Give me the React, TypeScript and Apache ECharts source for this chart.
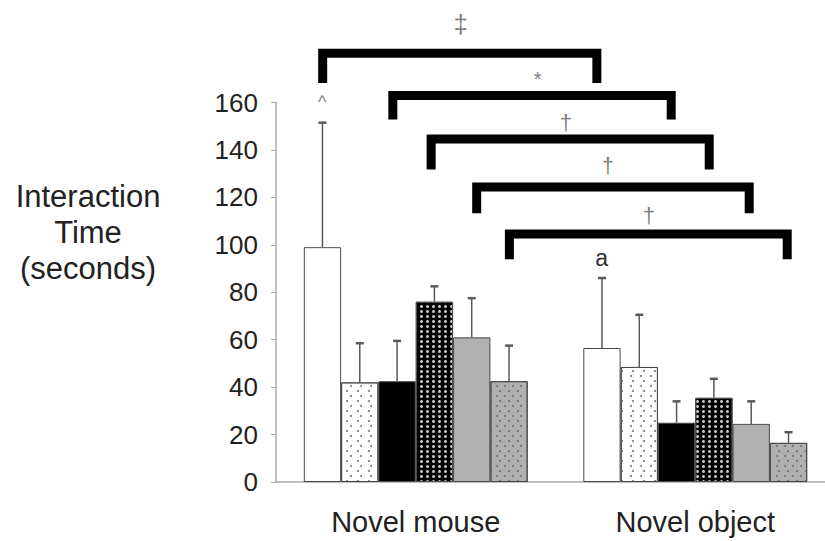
import React, { useEffect, useRef } from "react";
import * as echarts from "echarts";

const categories = ["Novel mouse", "Novel object"];
const meansNovelMouse = [99, 42, 42.5, 76, 61, 42.5];
const meansNovelObject = [56.5, 48.5, 25, 35.5, 24.5, 16.5];
const errTopNovelMouse = [151.5, 58.5, 59.5, 82.5, 77.5, 57.5];
const errTopNovelObject = [86, 70.5, 34, 43.5, 34, 21];
const yTicks = { min: 0, max: 160, interval: 20 };

// brackets: x in category units (0 = Novel mouse, 1 = Novel object), y in data units
const bracketLeft = [-0.333, -0.082, 0.055, 0.218, 0.335];
const bracketRight = [0.648, 0.914, 1.05, 1.193, 1.329];
const bracketTop = [180.8, 162.9, 144.6, 124.4, 104.6];
const bracketBottom = [168.2, 152.8, 131.8, 113.3, 93.9];

const markText = ["‡", "*", "†", "†", "†", "^", "a"];
const markX = [0.161, 0.436, 0.537, 0.687, 0.834, -0.335, 0.665];
const markY = [193.3, 170.1, 151.6, 133.5, 112.4, 160.1, 94.3];
const markSize = [26, 20, 22, 22, 22, 18, 23];

const BAR_FRAC = 0.1335;
const FONT = "'Liberation Sans', Arial, sans-serif";

export default function App() {
  const ref = useRef<HTMLDivElement>(null);
  useEffect(() => {
    if (!ref.current) return;
    const chart = echarts.init(ref.current, undefined, { renderer: "svg" });

    const barStyles: any[] = [
      { color: "#ffffff" },
      {
        color: "#ffffff",
        decal: {
          symbol: "circle",
          symbolSize: 1,
          color: "#777",
          backgroundColor: null,
          dashArrayX: [[1.4, 7.6], [0, 4.5, 1.4, 3.1]],
          dashArrayY: [1.4, 3],
          rotation: 0,
        },
      },
      { color: "#000000" },
      {
        color: "#000000",
        decal: {
          symbol: "circle",
          symbolSize: 1,
          color: "#c8c8c8",
          backgroundColor: null,
          dashArrayX: [2.4, 2.2],
          dashArrayY: [2.4, 1.9],
          rotation: 0,
        },
      },
      { color: "#b0b0b0" },
      {
        color: "#b0b0b0",
        decal: {
          symbol: "circle",
          symbolSize: 1,
          color: "#707070",
          backgroundColor: null,
          dashArrayX: [[1.4, 5.6], [0, 3.5, 1.4, 2.1]],
          dashArrayY: [1.4, 2.4],
          rotation: 0,
        },
      },
    ];

    const barSeries = barStyles.map((st, i) => ({
      type: "bar",
      name: "g" + i,
      data: [meansNovelMouse[i], meansNovelObject[i]],
      barWidth: BAR_FRAC * 100 + "%",
      barGap: "0%",
      itemStyle: { ...st, borderColor: "#4a4a4a", borderWidth: 1 },
      emphasis: { disabled: true },
      z: 2,
    }));

    const errData: number[][] = [];
    for (let i = 0; i < 6; i++) {
      errData.push([0, meansNovelMouse[i], errTopNovelMouse[i], i]);
      errData.push([1, meansNovelObject[i], errTopNovelObject[i], i]);
    }

    const errSeries = {
      type: "custom",
      data: errData,
      clip: false,
      z: 3,
      encode: { x: 0, y: 2 },
      renderItem: (params: any, api: any) => {
        const cat = api.value(0);
        const mean = api.value(1);
        const top = api.value(2);
        const idx = api.value(3);
        const bw = api.size([1, 0])[0] * BAR_FRAC;
        const base = api.coord([cat, mean]);
        const tp = api.coord([cat, top]);
        const x = base[0] + (idx - 2.5) * bw;
        return {
          type: "group",
          children: [
            {
              type: "line",
              shape: { x1: x, y1: base[1], x2: x, y2: tp[1] },
              style: { stroke: "#5a5a5a", lineWidth: 1.5 },
            },
            {
              type: "line",
              shape: { x1: x - 4, y1: tp[1], x2: x + 4, y2: tp[1] },
              style: { stroke: "#5a5a5a", lineWidth: 2.5 },
            },
          ],
        };
      },
    };

    const brData = bracketLeft.map((l, i) => [l, bracketRight[i], bracketTop[i], bracketBottom[i]]);
    const bracketSeries = {
      type: "custom",
      data: brData,
      clip: false,
      z: 4,
      encode: { x: 0, y: 2 },
      renderItem: (params: any, api: any) => {
        const cw = api.size([1, 0])[0];
        const c0 = api.coord([0, api.value(2)]);
        const bot = api.coord([0, api.value(3)]);
        const xl = c0[0] + api.value(0) * cw;
        const xr = c0[0] + api.value(1) * cw;
        return {
          type: "polyline",
          shape: {
            points: [
              [xl, bot[1]],
              [xl, c0[1]],
              [xr, c0[1]],
              [xr, bot[1]],
            ],
          },
          style: { stroke: "#000", lineWidth: 9, fill: null, lineJoin: "miter", lineCap: "butt" },
        };
      },
    };

    const mkData = markText.map((t, i) => [markX[i], markY[i], i]);
    const markSeries = {
      type: "custom",
      data: mkData,
      clip: false,
      z: 5,
      encode: { x: 0, y: 1 },
      renderItem: (params: any, api: any) => {
        const cw = api.size([1, 0])[0];
        const idx = api.value(2);
        const c = api.coord([0, api.value(1)]);
        const x = c[0] + api.value(0) * cw;
        const t = markText[idx];
        const isA = t === "a";
        return {
          type: "text",
          x,
          y: c[1],
          style: {
            text: t,
            fill: isA ? "#333" : "#808080",
            font: markSize[idx] + "px " + FONT,
            align: "center",
            verticalAlign: "middle",
          },
        };
      },
    };

    chart.setOption({
      animation: false,
      grid: { left: 276, right: 0, top: 102.5, bottom: 59 },
      xAxis: {
        type: "category",
        data: categories,
        axisLine: { lineStyle: { color: "#aaaaaa", width: 1.5 } },
        axisTick: { show: false },
        axisLabel: { fontSize: 29, color: "#222", fontFamily: FONT, margin: 25 },
      },
      yAxis: {
        type: "value",
        min: yTicks.min,
        max: yTicks.max,
        interval: yTicks.interval,
        axisLine: { show: true, lineStyle: { color: "#aaaaaa", width: 1.5 } },
        axisTick: { show: true, length: 5, lineStyle: { color: "#aaaaaa" } },
        splitLine: { show: false },
        axisLabel: { fontSize: 26, color: "#222", fontFamily: FONT, margin: 18 },
      },
      graphic: [
        {
          type: "text",
          x: 88,
          y: 232,
          style: {
            text: "Interaction\nTime\n(seconds)",
            font: "31px " + FONT,
            fill: "#222",
            align: "center",
            verticalAlign: "middle",
            lineHeight: 36,
          },
        },
      ],
      series: [...barSeries, errSeries, bracketSeries, markSeries],
    });
    return () => chart.dispose();
  }, []);
  return (
    <div
      style={{
        position: "absolute",
        left: 0,
        top: 0,
        width: 825,
        height: 541,
        overflow: "hidden",
      }}
    >
      <div ref={ref} style={{ width: 835, height: 541 }} />
    </div>
  );
}
